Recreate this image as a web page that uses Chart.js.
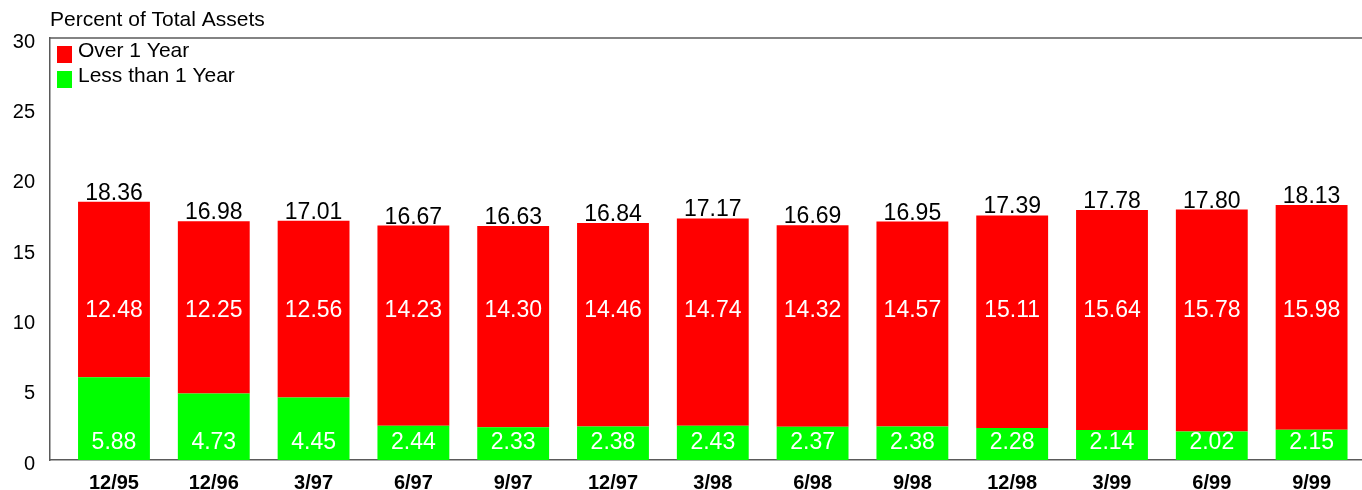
<!DOCTYPE html>
<html>
<head>
<meta charset="utf-8">
<script src="https://cdn.jsdelivr.net/npm/chart.js@4/dist/chart.umd.min.js"></script>
<style>
  html, body { margin: 0; padding: 0; background: #fff; }
  #wrap { width: 1362px; height: 490px; }
</style>
</head>
<body>
<div id="wrap"><canvas id="assetsChart" width="1362" height="490"></canvas></div>
<script>
const periods = ["12/95","12/96","3/97","6/97","9/97","12/97","3/98","6/98","9/98","12/98","3/99","6/99","9/99"];
const lessThanOne = [5.88, 4.73, 4.45, 2.44, 2.33, 2.38, 2.43, 2.37, 2.38, 2.28, 2.14, 2.02, 2.15];
const overOne = [12.48, 12.25, 12.56, 14.23, 14.30, 14.46, 14.74, 14.32, 14.57, 15.11, 15.64, 15.78, 15.98];
const totals = [18.36, 16.98, 17.01, 16.67, 16.63, 16.84, 17.17, 16.69, 16.95, 17.39, 17.78, 17.80, 18.13];
const yTicks = [0, 5, 10, 15, 20, 25, 30];

const FONT = "'Liberation Sans', Arial, sans-serif";
const RED = "#ff0000";
const GREEN = "#00ff00";
const AXIS = "#5a5a5a";

// labels, legend, title and the top frame line
const decorations = {
  id: "decorations",
  afterDatasetsDraw(chart) {
    const { ctx, chartArea, scales } = chart;
    const x = scales.x, y = scales.y;
    ctx.save();

    ctx.strokeStyle = AXIS;
    ctx.lineWidth = 1.5;
    ctx.beginPath();
    ctx.moveTo(chartArea.left, chartArea.top);
    ctx.lineTo(chartArea.right, chartArea.top);
    ctx.stroke();

    ctx.textAlign = "center";
    ctx.font = "23px " + FONT;
    periods.forEach((p, i) => {
      const cx = x.getPixelForValue(i);
      ctx.fillStyle = "#000";
      ctx.textBaseline = "alphabetic";
      ctx.fillText(totals[i].toFixed(2), cx, y.getPixelForValue(totals[i]) - 2);
      ctx.fillStyle = "#fff";
      ctx.textBaseline = "middle";
      ctx.fillText(overOne[i].toFixed(2), cx, y.getPixelForValue(10.6));
      ctx.fillText(lessThanOne[i].toFixed(2), cx, y.getPixelForValue(1.2));
    });

    // legend inside the plot, top left
    ctx.textAlign = "left";
    ctx.textBaseline = "alphabetic";
    ctx.font = "21px " + FONT;
    const items = [["Over 1 Year", RED], ["Less than 1 Year", GREEN]];
    items.forEach(([label, color], k) => {
      const top = chartArea.top + 8 + k * 25;
      ctx.fillStyle = color;
      ctx.fillRect(chartArea.left + 7, top, 15, 17);
      ctx.fillStyle = "#000";
      ctx.fillText(label, chartArea.left + 28, top + 11);
    });

    ctx.fillText("Percent of Total Assets", chartArea.left, chartArea.top - 12);
    ctx.restore();
  }
};

new Chart(document.getElementById("assetsChart").getContext("2d"), {
  type: "bar",
  data: {
    datasets: [
      { label: "Less than 1 Year", data: lessThanOne.map((v, i) => ({ x: i, y: v })), backgroundColor: GREEN },
      { label: "Over 1 Year", data: overOne.map((v, i) => ({ x: i, y: v })), backgroundColor: RED }
    ]
  },
  options: {
    responsive: false,
    animation: false,
    layout: { padding: { top: 38, left: 0, right: 0, bottom: 0 } },
    datasets: { bar: { barPercentage: 0.72, categoryPercentage: 1 } },
    plugins: { legend: { display: false }, tooltip: { enabled: false } },
    scales: {
      x: {
        type: "linear",
        stacked: true,
        offset: false,
        min: -0.641,
        max: 12.505,
        afterBuildTicks: (s) => { s.ticks = periods.map((_, i) => ({ value: i })); },
        afterFit: (s) => { s.height = 30; },
        grid: { display: false, drawTicks: false },
        border: { color: AXIS, width: 1.5 },
        ticks: {
          autoSkip: false,
          maxRotation: 0,
          padding: 11,
          color: "#000",
          font: { family: FONT, size: 20, weight: "bold" },
          callback: (v) => periods[v]
        }
      },
      y: {
        stacked: true,
        min: 0,
        max: 30,
        afterBuildTicks: (s) => { s.ticks = yTicks.map((v) => ({ value: v })); },
        afterFit: (s) => { s.width = 50; },
        grid: { display: false, drawTicks: false },
        border: { color: AXIS, width: 1.5 },
        ticks: {
          padding: 15,
          labelOffset: 4,
          color: "#000",
          font: { family: FONT, size: 20 }
        }
      }
    }
  },
  plugins: [decorations]
});
</script>
</body>
</html>
